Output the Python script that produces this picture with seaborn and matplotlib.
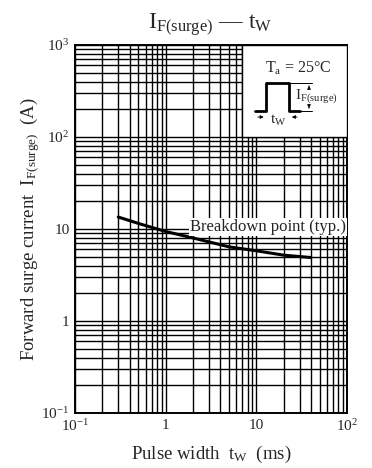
import matplotlib
matplotlib.use("Agg")
import matplotlib.pyplot as plt
import seaborn as sns
import pandas as pd
from matplotlib.patches import Rectangle
from matplotlib.ticker import LogLocator, NullFormatter

# data
pulse_width = [0.3, 0.5, 1, 2, 5, 10, 20, 40]          # ms
surge_current = [13.5, 11.5, 9.4, 8.0, 6.4, 5.8, 5.2, 4.9]  # A

x_ticks = [0.1, 1, 10, 100]
x_labels = [r"$10^{-1}$", "1", "10", r"$10^{2}$"]
y_ticks = [0.1, 1, 10, 100, 1000]
y_labels = [r"$10^{-1}$", "1", "10", r"$10^{2}$", r"$10^{3}$"]

sns.set_style("white")
plt.rcParams["font.family"] = ["Liberation Serif", "DejaVu Serif"]
plt.rcParams["mathtext.fontset"] = "custom"
plt.rcParams["mathtext.rm"] = "Liberation Serif"
plt.rcParams["mathtext.it"] = "Liberation Serif"

df = pd.DataFrame({"tw": pulse_width, "ifs": surge_current})

fig = plt.figure(figsize=(3.72, 4.68), dpi=100)
ax = fig.add_axes([0.2016, 0.1175, 0.7312, 0.7863])

sns.lineplot(data=df, x="tw", y="ifs", ax=ax, color="black", lw=2.2, zorder=4)

ax.set_xscale("log")
ax.set_yscale("log")
ax.set_xlim(0.1, 100)
ax.set_ylim(0.1, 1000)

ax.xaxis.set_minor_locator(LogLocator(base=10, subs=range(2, 10)))
ax.yaxis.set_minor_locator(LogLocator(base=10, subs=range(2, 10)))
ax.xaxis.set_minor_formatter(NullFormatter())
ax.yaxis.set_minor_formatter(NullFormatter())
ax.set_xticks(x_ticks)
ax.set_xticklabels(x_labels, fontsize=11)
ax.set_yticks(y_ticks)
ax.set_yticklabels(y_labels, fontsize=11)
ax.tick_params(which="both", length=0, pad=4)

ax.grid(True, which="both", color="black", lw=1.0)
for s in ax.spines.values():
    s.set_color("black")
    s.set_linewidth(1.4)

# blank box for the condition inset
ax.add_patch(Rectangle((7, 100), 93, 900, facecolor="white", edgecolor="black",
                       lw=1.0, zorder=3))

t = ax.transAxes
def px(x, y):
    return ((x - 75) / 272, (413 - y) / 368)

ax.text(*px(298, 68), r"T$_{\mathrm{a}}$ = 25°C", transform=t, ha="center",
        va="center", fontsize=11.5, zorder=5)
pulse = [px(255, 111), px(266.5, 111), px(266.5, 83), px(289, 83),
         px(289, 111), px(300, 111)]
ax.plot([p[0] for p in pulse], [p[1] for p in pulse], transform=t, color="black",
        lw=2, zorder=5, clip_on=False)
ax.plot([px(289, 83)[0], px(312, 83)[0]], [px(289, 83)[1]] * 2, transform=t,
        color="black", lw=0.7, zorder=5)
ax.plot([px(300, 111)[0], px(312, 111)[0]], [px(300, 111)[1]] * 2, transform=t,
        color="black", lw=0.7, zorder=5)
arr = dict(arrowstyle="-|>", color="black", lw=0.6, mutation_scale=5)
ax.annotate("", xy=px(309, 83), xytext=px(309, 89), xycoords=t, textcoords=t,
            arrowprops=arr, zorder=5)
ax.annotate("", xy=px(309, 111), xytext=px(309, 105), xycoords=t, textcoords=t,
            arrowprops=arr, zorder=5)
ax.annotate("", xy=px(266.5, 117), xytext=px(255, 117), xycoords=t, textcoords=t,
            arrowprops=arr, zorder=5)
ax.annotate("", xy=px(289, 117), xytext=px(300, 117), xycoords=t, textcoords=t,
            arrowprops=arr, zorder=5)
ax.text(*px(295, 96), r"I$_{\mathrm{F(surge)}}$", transform=t, ha="left",
        va="center", fontsize=11, zorder=5)
ax.text(*px(278, 120), r"t$_{\mathrm{W}}$", transform=t, ha="center",
        va="center", fontsize=11, zorder=5)

ax.text(1.85, 10.5, "Breakdown point (typ.)", fontsize=12, ha="left",
        va="center", zorder=5,
        bbox=dict(facecolor="white", edgecolor="none", pad=1))

ax.set_xlabel(r"Pulse width  t$_{\mathrm{W}}$  (ms)", fontsize=13.5, labelpad=7)
ax.set_ylabel(r"Forward surge current  I$_{\mathrm{F(surge)}}$  (A)",
              fontsize=13.5)
ax.yaxis.set_label_coords(-0.122, 0.5)
fig.text(0.565, 0.947, r"I$_{\mathrm{F(surge)}}$ — t$_{\mathrm{W}}$",
         ha="center", va="center", fontsize=17)

fig.savefig("out.png", dpi=100)
